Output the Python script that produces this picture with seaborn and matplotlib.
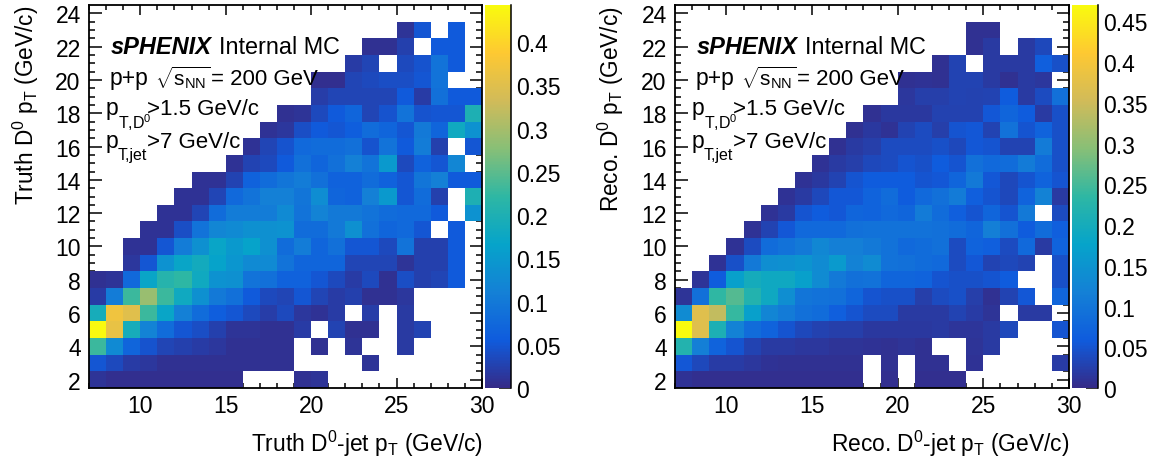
#!/usr/bin/env python

import numpy as np
import pandas as pd
import seaborn as sns
import matplotlib.pyplot as plt
from matplotlib.colors import LinearSegmentedColormap

n = np.nan

# rows run from y=24 at the top down to y=2, columns x=7.5 ... 29.5
truth_values = [
    [n]*23,
    [n]*18 + [.012, .05, n, .055, n],
    [n]*16 + [.008, .008, .025, n, .055, .055, n],
    [n]*15 + [.02, .03, n, .035, .045, .09, .055, n],
    [n]*13 + [.006, .006, .03, .035, .04, .04, .05, .09, n, n],
    [n]*13 + [.022, .03, .03, .03, .03, .055, .02, .085, .055, .055],
    [n]*11 + [.008, .012, .035, .055, .07, .03, .045, .09, .045, .05, .05, .2],
    [n]*10 + [.01, .015, .04, .055, .05, .06, .08, .07, .05, .1, .07, .18, .14],
    [n]*9 + [.01, .03, .045, .075, .08, .08, .085, .045, .09, .055, .105, .025, n, .05],
    [n]*8 + [.01, .028, .035, .055, .085, .07, .085, .11, .09, .15, .035, .065, .05, .12, n],
    [n]*6 + [.01, .01, .028, .065, .08, .095, .105, .085, .065, .065, .08, .065, .05, .095, .11, .055, .055],
    [n]*5 + [.01, .01, .03, .075, .09, .11, .11, .095, .13, .07, .065, .11, .15, .05, .08, .025, n, .2],
    [n]*4 + [.01, .01, .03, .08, .105, .105, .105, .125, .09, .115, .1, .1, .09, .08, .075, .075, .055, n, .14],
    [n]*3 + [.01, .01, .04, .09, .12, .125, .135, .135, .14, .08, .08, .1, .135, .085, .07, .075, .05, n, .055, n],
    [n]*2 + [.01, .01, .05, .105, .135, .17, .15, .165, .135, .08, .105, .07, .085, .05, .05, .035, .09, .025, .025, .055, n],
    [n]*2 + [.015, .05, .14, .17, .185, .165, .145, .125, .125, .09, .07, .07, .07, .03, .03, .03, .012, .025, .025, .055, n],
    [.008, .012, .075, .17, .21, .22, .18, .14, .135, .09, .085, .065, .065, .05, .035, .02, .035, .007, .04, .025, .03, .055, n],
    [.02, .105, .23, .29, .23, .18, .135, .1, .085, .055, .035, .03, .05, .03, .02, .025, .008, .008, .015, n, n, n, n],
    [.19, .37, .35, .23, .17, .11, .08, .06, .05, .035, .022, .035, .015, .01, .02, n, .022, n, .018, n, n, n, n],
    [.44, .36, .19, .115, .08, .05, .04, .025, .012, .012, .008, .008, .02, n, .028, .008, .008, n, .018, .028, n, n, n],
    [.23, .125, .07, .045, .03, .025, .02, .015, .008, .008, .008, .008, n, .008, n, .012, n, n, .018, n, n, n, n],
    [.05, .035, .02, .015, .008, .008, .008, .008, .008, .008, .008, .008, n, n, n, n, .012, n, n, n, n, n, n],
    [.012, .006, .006, .006, .006, .006, .006, .006, .006, n, n, n, .008, .012, n, n, n, n, n, n, n, n, n],
]

reco_values = [
    [n]*23,
    [n]*17 + [.008, .008, n, n, n, n],
    [n]*17 + [.008, .02, n, .02, .035, n],
    [n]*15 + [.008, .03, n, .02, .02, .02, .065, .045],
    [n]*13 + [.008, .01, .008, .03, .03, .02, .008, .02, .015, n],
    [n]*13 + [.015, .025, .025, .03, .028, .03, .06, .02, .04, .09],
    [n]*11 + [.008, .018, .018, .018, .028, .028, .028, .055, .075, .06, .02, .045],
    [n]*10 + [.008, .018, .01, .03, .04, .025, .05, .055, .03, .095, .05, .07, .045],
    [n]*9 + [.008, .02, .025, .04, .04, .04, .045, .035, .055, .05, .03, .03, .11, .045],
    [n]*8 + [.01, .02, .025, .035, .04, .05, .045, .06, .05, .09, .08, .085, .11, .085, .045],
    [n]*7 + [.01, .018, .03, .05, .06, .06, .06, .05, .055, .075, .105, .055, .035, .05, .07, .05],
    [n]*6 + [.01, .02, .035, .055, .055, .07, .085, .06, .08, .09, .11, .065, .05, .035, .07, .12, .02],
    [n]*5 + [.01, .02, .05, .06, .055, .075, .07, .08, .075, .11, .085, .065, .05, .075, .05, .105, n, .04],
    [n]*4 + [.01, .03, .055, .08, .08, .08, .09, .095, .095, .095, .095, .09, .085, .075, .115, .09, .06, .085, .065],
    [n]*3 + [.01, .04, .085, .095, .105, .13, .115, .115, .105, .095, .08, .085, .09, .04, .07, .065, .04, .08, .02, .07],
    [n]*2 + [.01, .045, .105, .14, .145, .15, .135, .16, .12, .135, .095, .09, .085, .08, .04, .055, .03, .035, .03, n, .045],
    [n] + [.012, .06, .17, .2, .19, .19, .17, .135, .105, .09, .095, .075, .075, .07, .05, .045, .045, .05, .06, n, n, .045],
    [.012, .09, .235, .26, .22, .19, .14, .1, .095, .09, .075, .05, .045, .045, .025, .04, .045, .025, .008, .03, .055, n, .075],
    [.135, .37, .34, .24, .17, .125, .11, .09, .085, .065, .05, .04, .04, .02, .02, .02, .03, .022, .012, n, .02, .02, n],
    [.47, .37, .21, .12, .085, .07, .05, .035, .028, .024, .024, .018, .018, .018, .018, .02, .014, .014, .02, .035, n, n, .05],
    [.22, .115, .07, .05, .03, .02, .02, .015, .015, .012, .012, .01, .008, .012, .008, n, n, .012, .02, n, n, n, n],
    [.055, .035, .022, .022, .015, .01, .008, .008, .008, .008, .008, n, .008, n, .008, .008, n, .01, n, n, n, n, .022],
    [.01, .006, .006, .006, .006, .006, .006, .006, .006, .006, .006, n, .006, n, .006, .006, .006, n, n, n, n, n, n],
]

x_edges = list(range(7, 31))
y_centers = list(range(24, 1, -1))
x_major = [10, 15, 20, 25, 30]
y_major = [2, 4, 6, 8, 10, 12, 14, 16, 18, 20, 22, 24]
truth_cbar_ticks = [0, .05, .1, .15, .2, .25, .3, .35, .4]
reco_cbar_ticks = [0, .05, .1, .15, .2, .25, .3, .35, .4, .45]

# ROOT kBird palette
bird = LinearSegmentedColormap.from_list('bird', [
    (0.2082, 0.1664, 0.5293), (0.0592, 0.3599, 0.8684), (0.0780, 0.5041, 0.8385),
    (0.0232, 0.6419, 0.7914), (0.1802, 0.7178, 0.6425), (0.5301, 0.7492, 0.4662),
    (0.8186, 0.7328, 0.3499), (0.9956, 0.7862, 0.1968), (0.9764, 0.9832, 0.0539)])

sns.set_theme(style='ticks')
plt.rcParams['font.family'] = ['Liberation Sans', 'DejaVu Sans']
plt.rcParams['mathtext.fontset'] = 'custom'
plt.rcParams['mathtext.rm'] = 'Liberation Sans'
plt.rcParams['mathtext.it'] = 'Liberation Sans:italic'
plt.rcParams['mathtext.default'] = 'regular'

W, H = 1151, 464
fig = plt.figure(figsize=(W / 100, H / 100), dpi=100)


def px_axes(left, top, right, bottom):
    """axes from pixel edges of the picture"""
    return fig.add_axes([left / W, 1 - bottom / H, (right - left) / W, (bottom - top) / H])


def px_text(x, y, s, **kw):
    fig.text(x / W, 1 - y / H, s, color='black', zorder=5, **kw)


def draw_panel(values, box, cbar_box, vmax, cbar_ticks, xlabel, ylabel, xlabel_right, ylabel_x, text_x):
    ax = px_axes(*box)
    cax = px_axes(*cbar_box)
    df = pd.DataFrame(values, index=y_centers, columns=x_edges[:-1]).iloc[::-1]
    sns.heatmap(df, ax=ax, cbar_ax=cax, cmap=bird, vmin=0, vmax=vmax, xticklabels=False, yticklabels=False)
    ax.set_ylim(0, 23)
    ax.set_xlim(0, 23)
    ax.set_xlabel('')
    ax.set_ylabel('')

    ax.set_xticks([x - 7 for x in x_major])
    ax.set_xticklabels([str(x) for x in x_major], fontsize=16.5)
    ax.set_xticks(np.arange(0, 24), minor=True)
    ax.set_yticks([y - 1.5 for y in y_major])
    ax.set_yticklabels([str(y) for y in y_major], fontsize=16.5)
    ax.set_yticks(np.arange(0.5, 23, 0.5), minor=True)
    ax.tick_params(axis='x', which='major', direction='in', length=7.5, width=1.1, top=True, bottom=True, pad=4, color='black', labelcolor='black')
    ax.tick_params(axis='x', which='minor', direction='in', length=3.7, width=1.1, top=True, bottom=True, color='black')
    ax.tick_params(axis='y', which='major', direction='in', length=9, width=1.1, left=True, right=True, pad=6, color='black', labelcolor='black')
    ax.tick_params(axis='y', which='minor', direction='in', length=4.5, width=1.1, left=True, right=True, color='black')
    for s in ax.spines.values():
        s.set_visible(True)
        s.set_linewidth(1.3)
        s.set_color('black')
    ax.set_zorder(2)

    cax.set_yticks(cbar_ticks)
    cax.set_yticklabels(['%g' % t for t in cbar_ticks], fontsize=16.5)
    cax.tick_params(axis='y', direction='in', length=9, width=1.1, right=True, left=False, pad=4, color='black', labelcolor='black')
    cax.spines['right'].set_visible(True)
    cax.spines['right'].set_color('black')
    cax.spines['right'].set_linewidth(1.1)

    px_text(xlabel_right, 452, xlabel, fontsize=16.4, ha='right', va='baseline')
    px_text(ylabel_x, 6, ylabel, fontsize=16.3, rotation=90, ha='center', va='top')

    px_text(text_x + 5, 54, 'sPHENIX', fontsize=17, fontweight='bold', fontstyle='italic', va='baseline')
    px_text(text_x + 113, 54, 'Internal MC', fontsize=16.8, va='baseline')
    px_text(text_x + 4, 85, 'p+p', fontsize=16.5, va='baseline')
    px_text(text_x + 49, 85, r'$\sqrt{s_{NN}}$', fontsize=15, va='baseline')
    px_text(text_x + 105, 85, '= 200 GeV', fontsize=16, va='baseline')
    # subscripts sit lower than mathtext would put them
    px_text(text_x, 115, 'p', fontsize=16.5, va='baseline')
    px_text(text_x + 12, 129, r'T,D$^{0}$', fontsize=11.5, va='baseline')
    px_text(text_x + 41, 115, '>1.5 GeV/c', fontsize=16, va='baseline')
    px_text(text_x, 148, 'p', fontsize=16.5, va='baseline')
    px_text(text_x + 12, 160, 'T,jet', fontsize=11.5, va='baseline')
    px_text(text_x + 41, 148, '>7 GeV/c', fontsize=16, va='baseline')


draw_panel(truth_values, (89, 6, 482, 389), (485, 6, 511, 389), .443, truth_cbar_ticks,
           'Truth D$^{0}$-jet p$_{T}$ (GeV/c)', 'Truth D$^{0}$ p$_{T}$ (GeV/c)', 483, 26, 106)
draw_panel(reco_values, (675, 6, 1069, 389), (1072, 6, 1098, 389), .47, reco_cbar_ticks,
           'Reco. D$^{0}$-jet p$_{T}$ (GeV/c)', 'Reco. D$^{0}$ p$_{T}$ (GeV/c)', 1069, 611, 692)

fig.savefig('out.png', dpi=100)
